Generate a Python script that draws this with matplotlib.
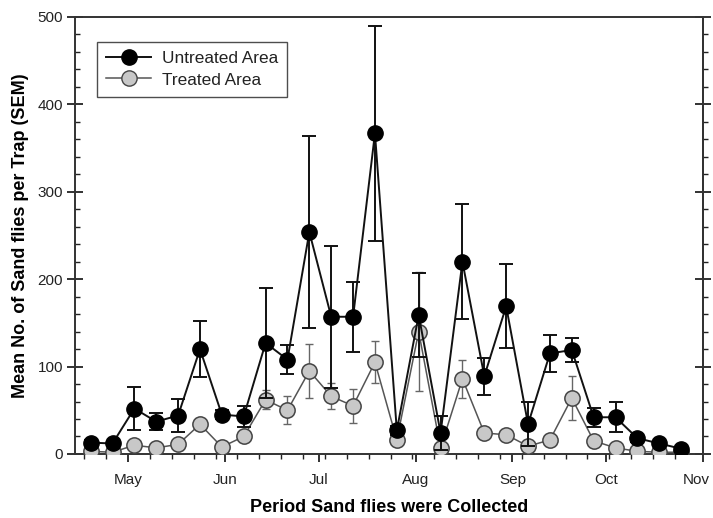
import matplotlib
matplotlib.use("Agg")
import matplotlib.pyplot as plt
import numpy as np
from datetime import datetime, timedelta
from matplotlib.lines import Line2D
from matplotlib.transforms import ScaledTranslation

plt.rcParams['font.family'] = ['Liberation Sans', 'DejaVu Sans']

dates = ["2005-04-19", "2005-04-26", "2005-05-03", "2005-05-10", "2005-05-17",
         "2005-05-24", "2005-05-31", "2005-06-07", "2005-06-14", "2005-06-21",
         "2005-06-28", "2005-07-05", "2005-07-12", "2005-07-19", "2005-07-26",
         "2005-08-02", "2005-08-09", "2005-08-16", "2005-08-23", "2005-08-30",
         "2005-09-06", "2005-09-13", "2005-09-20", "2005-09-27", "2005-10-04",
         "2005-10-11", "2005-10-18", "2005-10-25"]

untreated_mean = [13, 12, 52, 37, 44, 120, 45, 43, 127, 108, 254, 157, 157, 367,
                  27, 159, 24, 220, 89, 169, 34, 115, 119, 42, 42, 18, 12, 6]
untreated_sem = [3, 3, 25, 10, 19, 32, 5, 12, 63, 17, 110, 81, 40, 123,
                 5, 48, 19, 66, 21, 48, 25, 21, 14, 11, 17, 4, 3, 2]
treated_mean = [3, 2, 10, 7, 11, 34, 8, 20, 62, 50, 95, 66, 55, 105,
                16, 140, 7, 86, 24, 22, 9, 16, 64, 15, 7, 3, 2, 2]
treated_sem = [1, 1, 3, 2, 3, 4, 2, 5, 11, 16, 31, 15, 19, 24,
               3, 68, 2, 22, 3, 3, 2, 3, 25, 3, 2, 1, 1, 1]

month_labels = ["May", "Jun", "Jul", "Aug", "Sep", "Oct", "Nov"]
month_ticks = ["2005-05-01", "2005-06-01", "2005-07-01", "2005-08-01",
               "2005-09-01", "2005-10-01", "2005-11-01"]

x = [datetime.strptime(d, "%Y-%m-%d") for d in dates]
mt = [datetime.strptime(d, "%Y-%m-%d") for d in month_ticks]

fig = plt.figure(figsize=(7.13, 5.18), dpi=100)
ax = fig.add_axes([0.1052, 0.1236, 0.8808, 0.8436])

# treated
ax.errorbar(x, treated_mean, yerr=treated_sem, fmt='none', ecolor='#666666',
            elinewidth=1.0, capsize=3, capthick=1.0, zorder=2)
ax.plot(x, treated_mean, '-', color='#555555', lw=1.1, zorder=3)
ax.plot(x, treated_mean, 'o', ms=11, mfc='#c8c8c8', mec='#444444', mew=1.1,
        zorder=4)
# untreated
ax.errorbar(x, untreated_mean, yerr=untreated_sem, fmt='none', ecolor='#111111',
            elinewidth=1.4, capsize=5, capthick=1.4, zorder=5)
ax.plot(x, untreated_mean, '-', color='#111111', lw=1.4, zorder=6)
ax.plot(x, untreated_mean, 'o', ms=11, mfc='#000000', mec='#000000', mew=1.0,
        zorder=7)

h1 = Line2D([], [], color='#111111', lw=1.4, marker='o', ms=11, mfc='black', mec='black')
h2 = Line2D([], [], color='#555555', lw=1.1, marker='o', ms=11, mfc='#c8c8c8', mec='#444444')
leg = ax.legend([h1, h2], ["Untreated Area", "Treated Area"],
                loc='upper left', bbox_to_anchor=(0.035, 0.943),
                fontsize=12.4, frameon=True, fancybox=False, edgecolor='#222222',
                handlelength=2.6, handletextpad=0.6, labelspacing=0.35,
                borderpad=0.55, borderaxespad=0)
leg.get_frame().set_linewidth(1.0)
for t in leg.get_texts():
    t.set_color('#222222')

ax.set_ylim(0, 500)
ax.set_xlim(datetime(2005, 4, 14), datetime(2005, 11, 1))
ax.set_yticks([0, 100, 200, 300, 400, 500])
ax.set_yticks(np.arange(0, 501, 20), minor=True)
ax.set_xticks(mt)
ax.set_xticklabels(month_labels)
start = datetime(2005, 4, 17)
ax.set_xticks([start + timedelta(days=7 * k) for k in range(28)], minor=True)

for s in ax.spines.values():
    s.set_color('#333333')
    s.set_linewidth(1.4)

ax.tick_params(axis='y', which='major', direction='inout', length=11, width=1.3,
               color='#222222', labelsize=11, pad=3, labelcolor='#222222')
ax.tick_params(axis='y', which='minor', direction='in', length=3.5, width=1.0,
               color='#222222')
ax.tick_params(axis='x', which='major', direction='out', length=6, width=1.3,
               color='#222222', labelsize=11, pad=8, labelcolor='#222222')
ax.tick_params(axis='x', which='minor', direction='out', length=3.5, width=1.0,
               color='#222222')

# keep the last month label inside the figure
last = ax.get_xticklabels()[-1]
last.set_transform(last.get_transform() + ScaledTranslation(-0.07, 0, fig.dpi_scale_trans))

sec = ax.secondary_yaxis('right')
sec.set_yticks([0, 100, 200, 300, 400, 500])
sec.set_yticks(np.arange(0, 501, 20), minor=True)
sec.tick_params(which='major', direction='inout', length=11, width=1.3,
                color='#222222', labelright=False)
sec.tick_params(which='minor', direction='out', length=3.5, width=1.0,
                color='#222222')
sec.spines['right'].set_color('#333333')
sec.spines['right'].set_linewidth(1.4)

ax.set_ylabel("Mean No. of Sand flies per Trap (SEM)", fontsize=13,
              fontweight='bold', labelpad=6)
ax.set_xlabel("Period Sand flies were Collected", fontsize=13,
              fontweight='bold', labelpad=8)

fig.savefig("out.png", dpi=100)
